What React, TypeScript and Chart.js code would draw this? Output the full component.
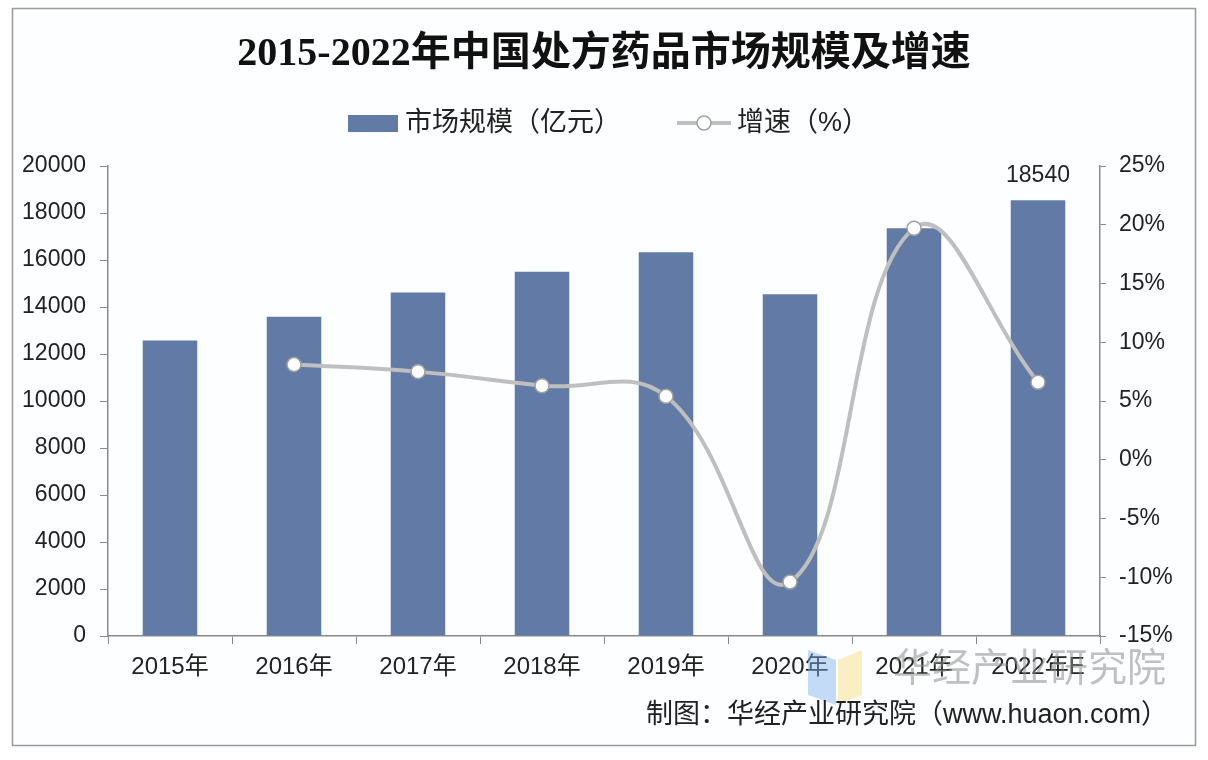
import React, { useEffect, useRef } from "react";
import { Chart, registerables } from "chart.js";

Chart.register(...registerables);

const categories = ["2015年", "2016年", "2017年", "2018年", "2019年", "2020年", "2021年", "2022年E"];
const marketSize = [12570, 13590, 14620, 15500, 16330, 14540, 17350, 18540];
const growthRate: (number | null)[] = [null, 8.1, 7.5, 6.3, 5.4, -10.4, 19.7, 6.6];
const titleText = "2015-2022年中国处方药品市场规模及增速";
const barLegend = "市场规模（亿元）";
const lineLegend = "增速（%）";
const footerText = "制图：华经产业研究院（www.huaon.com）";
const watermarkText = "华经产业研究院";
const labeledIndex = 7;

const BAR_COLOR = "#627ba6";
const LINE_COLOR = "#bfbfbf";
const AXIS_COLOR = "#8a8a8a";
const FONT = "'Liberation Sans', 'Noto Sans CJK SC', sans-serif";
const TITLE_FONT = "'Liberation Serif', 'Noto Sans CJK SC', serif";

const decorPlugin = {
  id: "decor",
  beforeDraw(chart: any) {
    const ctx = chart.ctx;
    ctx.save();
    ctx.fillStyle = "#ffffff";
    ctx.fillRect(0, 0, chart.width, chart.height);
    ctx.fillStyle = "#fdfeff";
    ctx.fillRect(12, 8, 1183, 737);
    ctx.strokeStyle = "#9a9a9a";
    ctx.lineWidth = 1.5;
    ctx.strokeRect(12.5, 8.5, 1183, 737);

    // title
    ctx.fillStyle = "#111";
    ctx.font = `bold 40px ${TITLE_FONT}`;
    ctx.textAlign = "center";
    ctx.textBaseline = "middle";
    ctx.fillText(titleText, 604, 55);

    // legend
    ctx.font = `27px ${FONT}`;
    ctx.textAlign = "left";
    ctx.fillStyle = BAR_COLOR;
    ctx.fillRect(348, 115, 50, 17);
    ctx.fillStyle = "#222";
    ctx.fillText(barLegend, 405, 124);
    ctx.strokeStyle = LINE_COLOR;
    ctx.lineWidth = 4;
    ctx.beginPath();
    ctx.moveTo(677, 123);
    ctx.lineTo(731, 123);
    ctx.stroke();
    ctx.beginPath();
    ctx.arc(704, 123, 7, 0, Math.PI * 2);
    ctx.fillStyle = "#fff";
    ctx.fill();
    ctx.strokeStyle = "#a0a0a0";
    ctx.lineWidth = 1.5;
    ctx.stroke();
    ctx.fillStyle = "#222";
    ctx.fillText(lineLegend, 737, 124);
    ctx.restore();
  },
  afterDraw(chart: any) {
    const ctx = chart.ctx;
    ctx.save();
    // data label
    const meta = chart.getDatasetMeta(0);
    const el = meta.data[labeledIndex];
    ctx.fillStyle = "#222";
    ctx.font = `23px ${FONT}`;
    ctx.textAlign = "center";
    ctx.textBaseline = "bottom";
    ctx.fillText(String(marketSize[labeledIndex]), el.x, el.y - 13);

    // watermark
    ctx.globalAlpha = 0.45;
    ctx.fillStyle = "#7fb2ee";
    ctx.beginPath();
    ctx.moveTo(808, 650);
    ctx.lineTo(836, 660);
    ctx.lineTo(836, 705);
    ctx.lineTo(808, 695);
    ctx.closePath();
    ctx.fill();
    ctx.fillStyle = "#f7dc7a";
    ctx.beginPath();
    ctx.moveTo(838, 660);
    ctx.lineTo(862, 650);
    ctx.lineTo(862, 695);
    ctx.lineTo(838, 705);
    ctx.closePath();
    ctx.fill();
    ctx.globalAlpha = 0.55;
    ctx.fillStyle = "#8c8c8c";
    ctx.font = `39px ${FONT}`;
    ctx.textAlign = "left";
    ctx.textBaseline = "middle";
    ctx.fillText(watermarkText, 893, 670);
    ctx.globalAlpha = 1;

    // footer
    ctx.fillStyle = "#222";
    ctx.font = `27px ${FONT}`;
    ctx.textAlign = "right";
    ctx.textBaseline = "middle";
    ctx.fillText(footerText, 1168, 716);
    ctx.restore();
  },
};

export default function App() {
  const canvasRef = useRef<HTMLCanvasElement | null>(null);

  useEffect(() => {
    document.body.style.margin = "0";
    const canvas = canvasRef.current;
    if (!canvas) return;
    const chart = new Chart(canvas, {
      type: "bar",
      data: {
        labels: categories,
        datasets: [
          {
            type: "bar",
            label: barLegend,
            data: marketSize,
            backgroundColor: BAR_COLOR,
            yAxisID: "y",
            barPercentage: 0.44,
            categoryPercentage: 1,
            order: 2,
          },
          {
            type: "line",
            label: lineLegend,
            data: growthRate,
            yAxisID: "y1",
            borderColor: LINE_COLOR,
            borderWidth: 4,
            tension: 0.42,
            pointRadius: 7,
            pointBackgroundColor: "#ffffff",
            pointBorderColor: "#a0a0a0",
            pointBorderWidth: 1.5,
            order: 1,
          } as any,
        ],
      },
      options: {
        responsive: false,
        animation: false,
        layout: { padding: { top: 166, left: 0, right: 0, bottom: 0 } },
        plugins: {
          legend: { display: false },
          title: { display: false },
          tooltip: { enabled: false },
        },
        scales: {
          x: {
            offset: true,
            grid: {
              offset: true,
              drawOnChartArea: false,
              drawTicks: true,
              tickLength: 8,
              color: AXIS_COLOR,
            },
            border: { display: true, color: AXIS_COLOR, width: 1.5 },
            ticks: {
              color: "#222",
              font: { size: 24, family: FONT },
              padding: 9,
              maxRotation: 0,
              autoSkip: false,
            },
            afterFit(scale: any) {
              scale.height = 124;
            },
          },
          y: {
            position: "left",
            min: 0,
            max: 20000,
            ticks: {
              stepSize: 2000,
              color: "#222",
              font: { size: 23, family: FONT },
              padding: 14,
              callback: (v: any) => String(v),
            },
            grid: {
              drawOnChartArea: false,
              drawTicks: true,
              tickLength: 8,
              color: AXIS_COLOR,
            },
            border: { display: true, color: AXIS_COLOR, width: 1.5 },
            afterFit(scale: any) {
              scale.width = 108;
            },
          },
          y1: {
            position: "right",
            min: -15,
            max: 25,
            ticks: {
              stepSize: 5,
              color: "#222",
              font: { size: 23, family: FONT },
              padding: 13,
              callback: (v: any) => `${v}%`,
            },
            grid: {
              drawOnChartArea: false,
              drawTicks: true,
              tickLength: 6,
              color: AXIS_COLOR,
            },
            border: { display: true, color: AXIS_COLOR, width: 1.5 },
            afterFit(scale: any) {
              scale.width = 108;
            },
          },
        },
      },
      plugins: [decorPlugin],
    });
    return () => chart.destroy();
  }, []);

  return (
    <div style={{ position: "fixed", left: 0, top: 0, width: 1208, height: 760, background: "#fff" }}>
      <canvas ref={canvasRef} width={1208} height={760} style={{ display: "block", width: 1208, height: 760 }} />
    </div>
  );
}
